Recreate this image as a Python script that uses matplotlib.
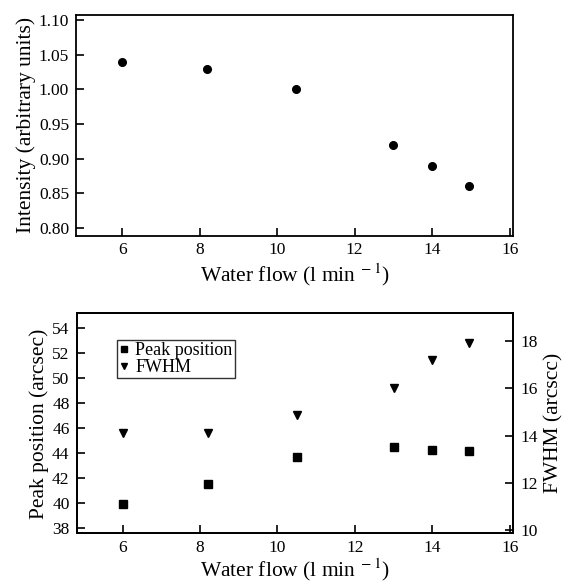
import matplotlib
matplotlib.use("Agg")
import matplotlib.pyplot as plt
from matplotlib.lines import Line2D
from matplotlib.ticker import FormatStrFormatter

plt.rcParams['font.family'] = ['Liberation Serif', 'DejaVu Serif']
plt.rcParams['mathtext.fontset'] = 'stix'

# Data
flow = [6.0, 8.2, 10.5, 13.0, 14.0, 14.95]
intensity = [1.04, 1.03, 1.00, 0.92, 0.89, 0.86]
peak_position = [39.95, 41.55, 43.7, 44.5, 44.28, 44.2]
fwhm = [14.1, 14.12, 14.87, 16.03, 17.2, 17.93]

x_ticks = [6, 8, 10, 12, 14, 16]
int_ticks = [0.80, 0.85, 0.90, 0.95, 1.00, 1.05, 1.10]
peak_ticks = [38, 40, 42, 44, 46, 48, 50, 52, 54]
fwhm_ticks = [10, 12, 14, 16, 18]

xlabel = "Water flow (l min$^{\\ -1}$)"

fig = plt.figure(figsize=(5.67, 5.83), dpi=100)

tick_fs = 12.5
label_fs = 15.5
lw = 1.3

def style(ax, left=True, right=False):
    for s in ax.spines.values():
        s.set_linewidth(lw)
    ax.tick_params(axis='both', direction='in', length=6, width=1.2,
                   labelsize=tick_fs, pad=5, top=False, right=right, left=left)

# Top panel
ax1 = fig.add_axes([0.134, 0.596, 0.771, 0.378])
ax1.plot(flow, intensity, 'o', color='black', ms=5.5)
ax1.set_xlim(4.81, 16.09)
ax1.set_ylim(0.789, 1.107)
ax1.set_xticks(x_ticks)
ax1.set_yticks(int_ticks)
ax1.yaxis.set_major_formatter(FormatStrFormatter('%.2f'))
style(ax1)
ax1.set_xlabel(xlabel, fontsize=label_fs, labelpad=2)
ax1.set_ylabel("Intensity (arbitrary units)", fontsize=label_fs, labelpad=2)

# Bottom panel
ax2 = fig.add_axes([0.135, 0.0852, 0.770, 0.3774])
ax2.plot(flow, peak_position, 's', color='black', ms=5.5)
ax2.set_xlim(4.81, 16.09)
ax2.set_ylim(37.6, 55.2)
ax2.set_xticks(x_ticks)
ax2.set_yticks(peak_ticks)
style(ax2)
ax2.set_xlabel(xlabel, fontsize=label_fs, labelpad=0)
ax2.set_ylabel("Peak position (arcsec)", fontsize=label_fs, labelpad=2)

ax3 = ax2.twinx()
ax3.plot(flow, fwhm, 'v', color='black', ms=6)
ax3.set_ylim(9.87, 19.17)
ax3.set_yticks(fwhm_ticks)
for s in ax3.spines.values():
    s.set_linewidth(lw)
ax3.tick_params(axis='y', direction='in', length=6, width=1.2,
                labelsize=tick_fs, pad=5)
ax3.set_ylabel("FWHM (arcscc)", fontsize=label_fs, labelpad=5)

handles = [Line2D([], [], marker='s', ls='none', color='black', ms=4.5),
           Line2D([], [], marker='v', ls='none', color='black', ms=5)]
leg = ax2.legend(handles, ["Peak position", "FWHM"], loc='upper left',
                 bbox_to_anchor=(0.092, 0.879), borderaxespad=0,
                 fontsize=13, frameon=True, fancybox=False, edgecolor='black',
                 borderpad=0.12, labelspacing=0.0, handlelength=0.6,
                 handletextpad=0.3)
leg.get_frame().set_linewidth(1.0)

fig.savefig("out.png", dpi=100)
